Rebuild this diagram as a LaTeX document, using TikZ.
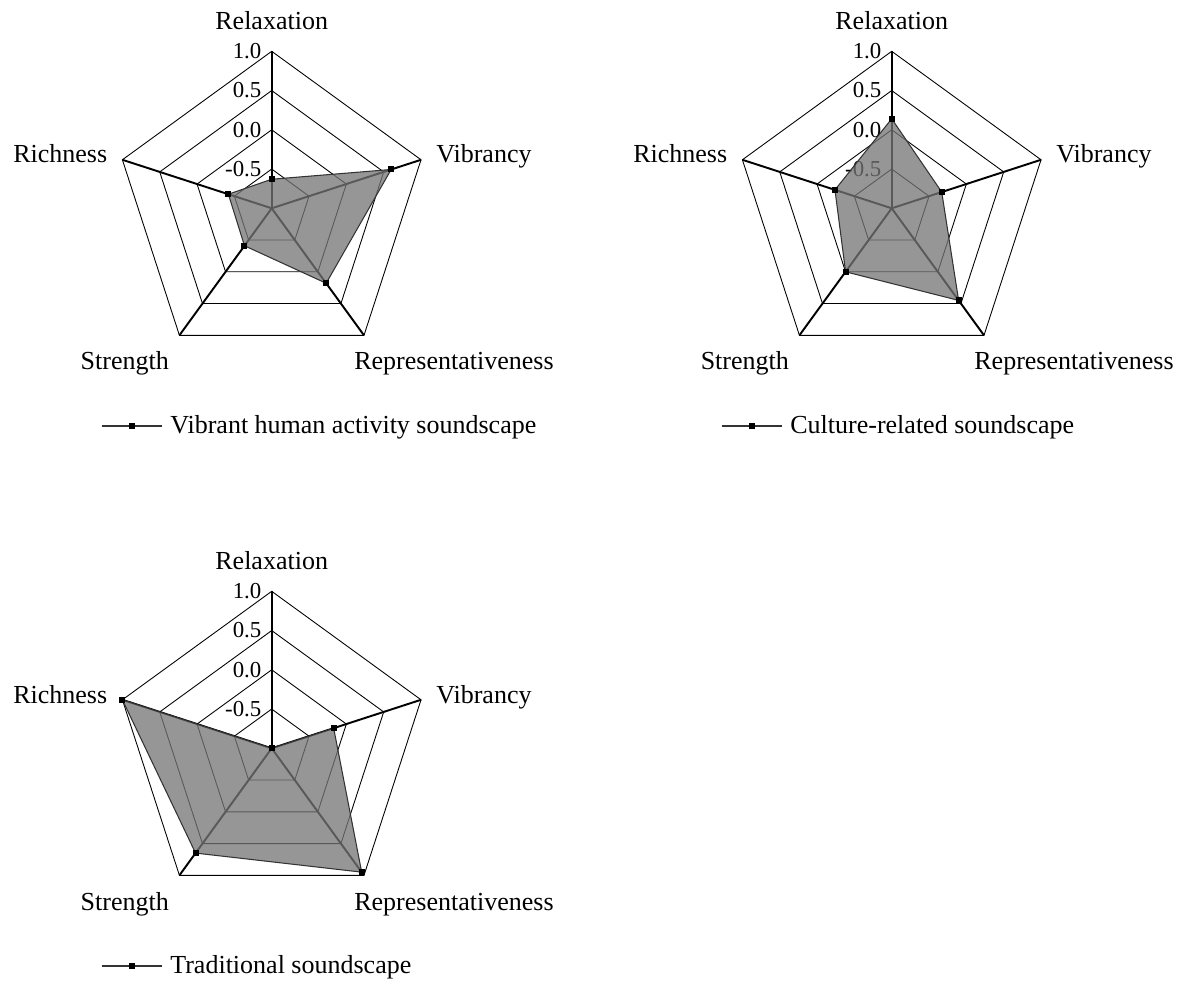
\documentclass[tikz,border=0pt]{standalone}
\usepackage{fontspec}
\setmainfont{Liberation Serif}
\usetikzlibrary{calc}

\tikzset{
  ring/.style={black, line width=0.5pt},
  spoke/.style={black, line width=1.1pt},
  datafill/.style={fill=black!54, fill opacity=0.76},
  dataline/.style={black!80, line width=0.6pt},
  axislabel/.style={font=\fontsize{14.8}{17}\selectfont, inner sep=0pt},
  ticklabel/.style={font=\fontsize{13}{15}\selectfont, inner sep=0pt, anchor=east},
}

\begin{document}
\begin{tikzpicture}[x=0.02cm, y=0.02cm]
  \def\rr{157} % outer radius (value 1.0)
  \useasboundingbox (0,0) rectangle (1183,985);
  % ---------- one radar per soundscape: centre / five values / legend ----------
  \foreach \cx/\cy/\va/\vb/\vc/\vd/\ve/\leg in {271.7/776.7/-0.63/0.60/0.18/-0.41/-0.42/Vibrant human activity soundscape, 891.7/776.7/0.14/-0.33/0.45/0.00/-0.24/Culture-related soundscape, 271.7/236.7/-1.00/-0.17/0.95/0.65/1.00/Traditional soundscape}
  {
  \begin{scope}[shift={(\cx,\cy)}]
    % rings at -0.5, 0.0, 0.5, 1.0
    \foreach \k in {1,2,3,4}
      \draw[ring] ({90}:{\k*\rr/4}) -- ({18}:{\k*\rr/4}) -- ({-54}:{\k*\rr/4})
        -- ({-126}:{\k*\rr/4}) -- ({162}:{\k*\rr/4}) -- cycle;
    % spokes
    \foreach \a in {90,18,-54,-126,162}
      \draw[spoke] (0,0) -- (\a:\rr);
    % scale
    \foreach \k/\t in {1/-0.5,2/0.0,3/0.5,4/1.0}
      \node[ticklabel] (tick\k) at (-10,{\k*\rr/4}) {\t};
    % data
    \coordinate (p1) at ({90}:{(\va+1)*\rr/2});
    \coordinate (p2) at ({18}:{(\vb+1)*\rr/2});
    \coordinate (p3) at ({-54}:{(\vc+1)*\rr/2});
    \coordinate (p4) at ({-126}:{(\vd+1)*\rr/2});
    \coordinate (p5) at ({162}:{(\ve+1)*\rr/2});
    \fill[datafill] (p1) -- (p2) -- (p3) -- (p4) -- (p5) -- cycle;
    \draw[dataline] (p1) -- (p2) -- (p3) -- (p4) -- (p5) -- cycle;
    \foreach \p in {p1,p2,p3,p4,p5}
      \fill (\p) +(-3,-3) rectangle +(3,3);
    % axis names
    \node[axislabel, anchor=base] (relax) at (0,178.8) {Relaxation};
    \node[axislabel, anchor=base west] (vib) at (164.3,45.3) {Vibrancy};
    \node[axislabel, anchor=base west] (repr) at (82.3,-161.7) {Representativeness};
    \node[axislabel, anchor=base] (stren) at (-146.9,-161.7) {Strength};
    \node[axislabel, anchor=base east] (rich) at (-164.2,45.3) {Richness};
    % legend
    \coordinate (legA) at (-170,-217.7);
    \coordinate (legB) at (-110,-217.7);
    \draw[dataline] (legA) -- (legB);
    \fill ($(legA)!0.5!(legB)$) +(-3,-3) rectangle +(3,3);
    \node[axislabel, anchor=base west] (leg) at (-101.7,-225) {\leg};
  \end{scope}
  }
\end{tikzpicture}
\end{document}
